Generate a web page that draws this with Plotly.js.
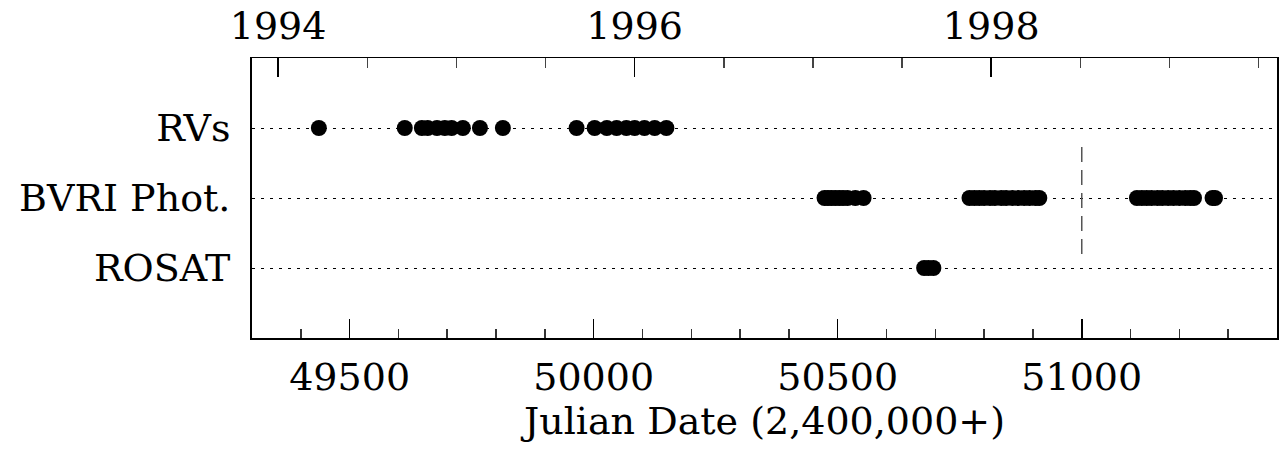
<!DOCTYPE html>
<html>
<head>
<meta charset="utf-8">
<script src="https://cdn.plot.ly/plotly-3.0.1.min.js"></script>
<style>
  html, body { margin: 0; padding: 0; background: #fff; }
  #chart { width: 1283px; height: 454px; }
</style>
</head>
<body>
<div id="chart"></div>
<script>
// ---- data (Julian Date - 2,400,000) ----
const rowLabels = ['RVs', 'BVRI Phot.', 'ROSAT'];
const rowLevels = [3, 2, 1];

const rvJD = [49437, 49613, 49648, 49660, 49679, 49695, 49709, 49732, 49767, 49814,
              49965, 50002, 50027, 50047, 50067, 50084, 50104, 50125, 50149];
const photJD = [50473, 50480, 50487, 50495, 50503, 50511, 50520, 50536, 50553,
                50770, 50780, 50790, 50800, 50812, 50822, 50835, 50845, 50858, 50870, 50882, 50893, 50905, 50913,
                51113, 51123, 51133, 51143, 51155, 51165, 51177, 51188, 51200, 51212, 51222, 51230, 51268, 51273];
const rosatJD = [50677, 50686, 50696];

const markerLineJD = [51000, 51000];
const markerLineY = [1.2, 2.8];

const jdRange = [49300, 51400];
const topYears = [1994, 1996, 1998];
const jdOfYear1994 = 49353.5;   // JD of 1994.0
const daysPerYear = 365.25;
const yearRange = jdRange.map(j => 1994 + (j - jdOfYear1994) / daysPerYear);

const FONT = 'DejaVu Serif, Liberation Serif, serif';
const dot = { color: '#000', size: 16, symbol: 'circle', line: { width: 0 } };

const traces = [
  { x: rvJD, y: rvJD.map(() => rowLevels[0]), mode: 'markers', marker: dot, type: 'scatter', hoverinfo: 'x' },
  { x: photJD, y: photJD.map(() => rowLevels[1]), mode: 'markers', marker: dot, type: 'scatter', hoverinfo: 'x' },
  { x: rosatJD, y: rosatJD.map(() => rowLevels[2]), mode: 'markers', marker: dot, type: 'scatter', hoverinfo: 'x' },
  { x: markerLineJD, y: markerLineY, mode: 'lines', type: 'scatter',
    line: { color: '#555', width: 1.5, dash: '15px,8px' }, hoverinfo: 'skip' },
  { x: yearRange, y: [null, null], xaxis: 'x2', yaxis: 'y', mode: 'markers', type: 'scatter', hoverinfo: 'skip' }
];

const layout = {
  width: 1283, height: 454,
  margin: { l: 252, r: 6, t: 58, b: 116 },
  paper_bgcolor: '#fff', plot_bgcolor: '#fff',
  showlegend: false,
  font: { family: FONT, color: '#000', size: 38 },
  xaxis: {
    range: jdRange,
    tickmode: 'linear', tick0: 49500, dtick: 500, tickformat: 'd',
    ticks: 'inside', ticklen: 19, tickwidth: 1.5, tickcolor: '#000',
    minor: { dtick: 100, tick0: 49500, ticks: 'inside', ticklen: 9, tickwidth: 1.5, tickcolor: '#333', showgrid: false },
    showline: true, linecolor: '#000', linewidth: 2,
    showgrid: false, zeroline: false,
    tickfont: { family: FONT, size: 38, color: '#000' },
    ticklabelstandoff: 4,
    title: { text: 'Julian Date (2,400,000+)', font: { family: FONT, size: 38, color: '#000' }, standoff: 10 }
  },
  xaxis2: {
    overlaying: 'x', side: 'top', anchor: 'y',
    range: yearRange,
    tickmode: 'array', tickvals: topYears, ticktext: topYears.map(String),
    ticks: 'inside', ticklen: 19, tickwidth: 1.5, tickcolor: '#000',
    minor: { dtick: 0.5, tick0: 1994, ticks: 'inside', ticklen: 10, tickwidth: 1.5, tickcolor: '#444', showgrid: false },
    showline: true, linecolor: '#000', linewidth: 1.5,
    showgrid: false, zeroline: false,
    tickfont: { family: FONT, size: 38, color: '#000' },
    ticklabelstandoff: 2
  },
  yaxis: {
    range: [0, 4],
    tickmode: 'array', tickvals: rowLevels, ticktext: rowLabels,
    ticks: '', showline: true, mirror: true, linecolor: '#000', linewidth: 2,
    showgrid: true, gridcolor: '#000', gridwidth: 1, griddash: '3px,6px',
    zeroline: false,
    tickfont: { family: FONT, size: 38, color: '#000' },
    ticklabelstandoff: 12
  }
};

Plotly.newPlot('chart', traces, layout, { staticPlot: true, displayModeBar: false });
</script>
</body>
</html>
